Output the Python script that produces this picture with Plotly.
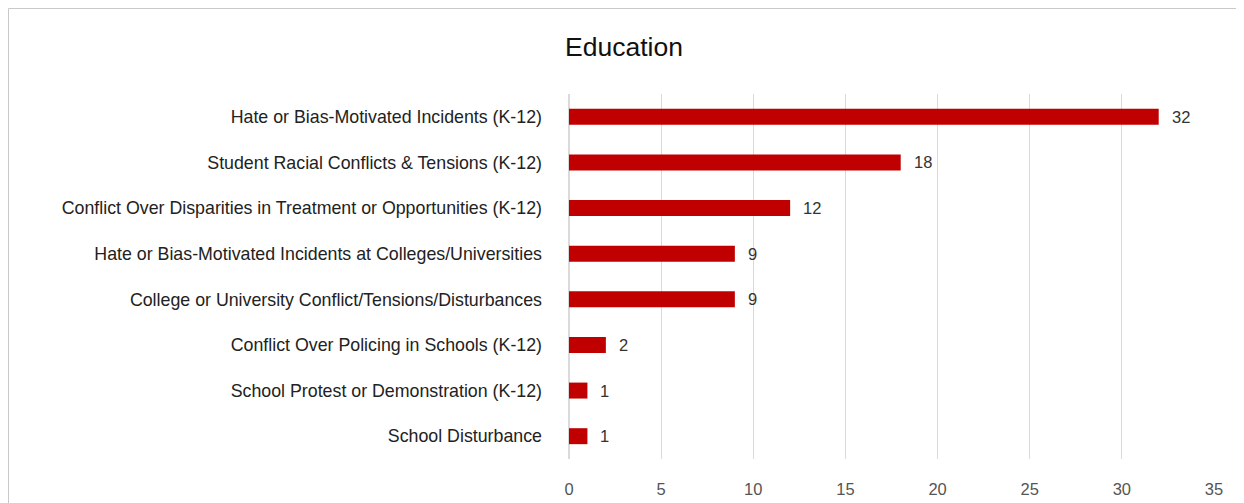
import plotly.graph_objects as go

categories = [
    "Hate or Bias-Motivated Incidents (K-12)",
    "Student Racial Conflicts & Tensions (K-12)",
    "Conflict Over Disparities in Treatment or Opportunities (K-12)",
    "Hate or Bias-Motivated Incidents at Colleges/Universities",
    "College or University Conflict/Tensions/Disturbances",
    "Conflict Over Policing in Schools (K-12)",
    "School Protest or Demonstration (K-12)",
    "School Disturbance",
]
values = [32, 18, 12, 9, 9, 2, 1, 1]
tick_vals = [0, 5, 10, 15, 20, 25, 30, 35]

# page is rendered with an 8px body margin, so the figure starts at (8, 8)
OFF = 8
W, H = 1244 - OFF, 503 - OFF
ML, MR, MT, MB = 569 - OFF, 30, 94 - OFF, 44
PW, PH = W - ML - MR, H - MT - MB


def px_x(p):
    return (p - ML) / PW


def px_y(p):
    return (H - MB - p) / PH


fig = go.Figure(go.Bar(
    x=values, y=categories, orientation="h",
    marker=dict(color="#c00000", line=dict(width=0)),
    hoverinfo="x+y",
))

for c, v in zip(categories, values):
    fig.add_annotation(x=v, y=c, text=str(v), showarrow=False, xanchor="left",
                       xshift=11, font=dict(family="Liberation Sans, Arial", size=16.5, color="#333333"))

fig.add_shape(type="rect", xref="paper", yref="paper",
              x0=px_x(0.5), x1=px_x(W + 20), y0=px_y(H + 20), y1=px_y(0.5),
              fillcolor="white", line=dict(color="#c9c9c9", width=1), layer="below")

fig.update_layout(
    width=W, height=H,
    margin=dict(l=ML, r=MR, t=MT, b=MB, autoexpand=False),
    paper_bgcolor="white",
    plot_bgcolor="rgba(0,0,0,0)",
    bargap=0.65,
    showlegend=False,
    title=dict(text="Education", x=(624 - OFF) / W, xref="container", xanchor="center",
               y=1 - (47 - OFF) / H, yref="container", yanchor="middle",
               font=dict(family="Liberation Sans, Arial", size=26.5, color="#111111")),
    xaxis=dict(range=[0, 35], tickvals=tick_vals, showgrid=True, gridcolor="#dadada",
               gridwidth=1, zeroline=True, zerolinecolor="#dadada", showline=False,
               ticks="", ticklabelstandoff=18, automargin=False,
               tickfont=dict(family="Liberation Sans, Arial", size=16.5, color="#555555")),
    yaxis=dict(autorange="reversed", showgrid=False, ticks="", ticklabelstandoff=26,
               automargin=False,
               tickfont=dict(family="Liberation Sans, Arial", size=17.8, color="#222222")),
    font=dict(family="Liberation Sans, Arial"),
)

fig.write_html("out.html")
